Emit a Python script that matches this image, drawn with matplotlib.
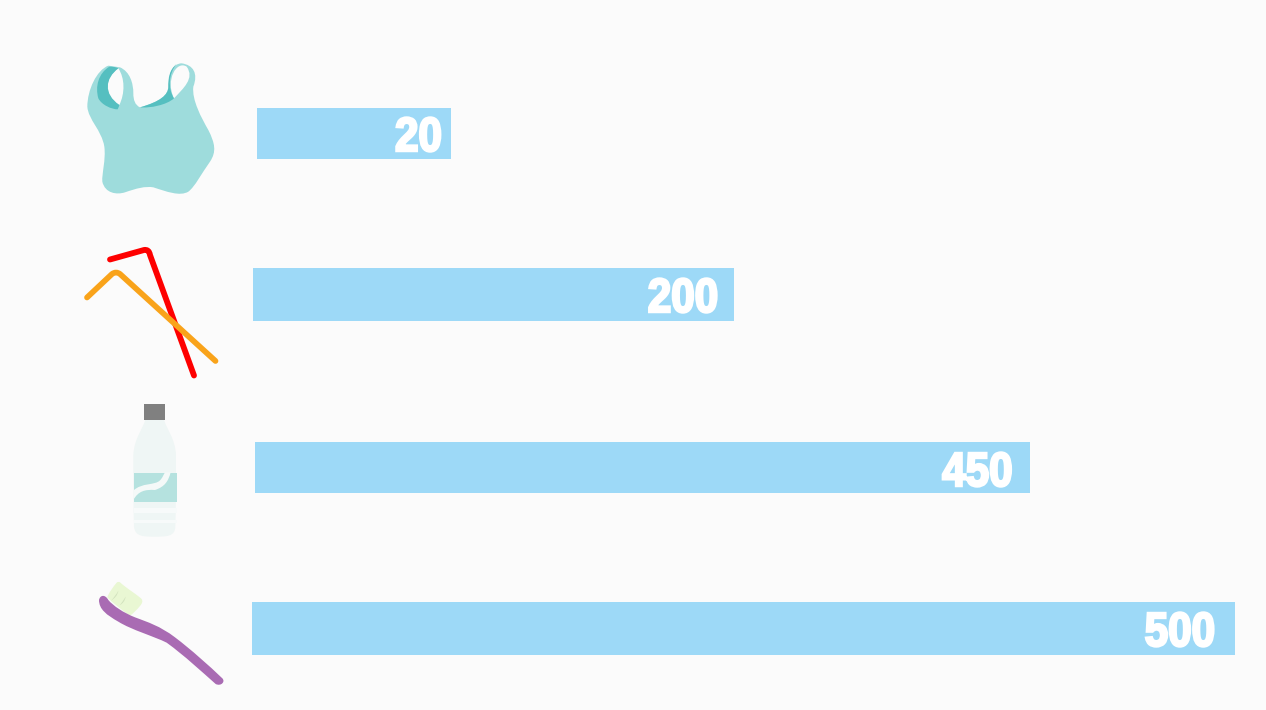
import matplotlib
matplotlib.use("Agg")
import matplotlib.pyplot as plt
import matplotlib.patheffects as pe
from matplotlib.path import Path
from matplotlib.patches import PathPatch, Rectangle
from matplotlib.transforms import Affine2D

# values printed on the bars and how long each bar is drawn (not to scale in the original)
items = ["bag", "straws", "bottle", "toothbrush"]
values = [20, 200, 450, 500]
bar_lengths = [194, 481, 775, 983]

# layout, in pixels of the image
bar_left = [257, 253, 255, 252]
bar_top = [108, 268, 442, 602]
bar_height = [51, 53, 51, 53]
label_x = [418.5, 683, 977.5, 1180]
label_base = [151, 312, 486, 646]

BG = "#FBFBFB"
BAR = "#9DD9F7"


class Squeezed(pe.AbstractPathEffect):
    # narrows the text around its middle, the fonts here have no heavy condensed face
    def __init__(self, sx, width):
        super().__init__()
        self.sx = sx
        self.width = width

    def draw_path(self, renderer, gc, tpath, affine, rgbFace=None):
        xs = affine.transform(tpath.vertices)[:, 0]
        cx = (xs.min() + xs.max()) / 2
        squeeze = Affine2D().translate(-cx, 0).scale(self.sx, 1).translate(cx, 0)
        gc0 = renderer.new_gc()
        gc0.copy_properties(gc)
        gc0.set_linewidth(self.width)
        gc0.set_foreground("white")
        gc0.set_joinstyle("miter")
        renderer.draw_path(gc0, tpath, affine + squeeze, rgbFace)
        gc0.restore()


def curve(ax, points, color, off=(0, 0), zorder=3):
    # first point, then bezier triples, coordinates as read in a 3x crop
    verts = [(off[0] + x / 3, off[1] + y / 3) for x, y in points]
    codes = [Path.MOVETO] + [Path.CURVE4] * (len(verts) - 1)
    ax.add_patch(PathPatch(Path(verts, codes), fc=color, ec="none", zorder=zorder))


def draw_bag(ax):
    off = (70, 50)
    curve(ax, [(115, 47), (80, 60), (52, 120), (52, 170), (55, 210), (95, 240), (103, 290),
               (108, 330), (95, 370), (97, 395), (105, 430), (140, 435), (165, 427),
               (200, 415), (225, 408), (250, 412), (290, 425), (330, 440), (355, 425),
               (375, 410), (395, 370), (420, 335), (440, 305), (435, 280), (415, 240),
               (395, 205), (365, 150), (370, 110), (385, 70), (370, 45), (335, 40),
               (310, 40), (295, 70), (295, 110), (295, 135), (270, 155), (210, 172),
               (195, 165), (190, 150), (190, 130), (190, 100), (180, 65), (150, 52),
               (135, 50), (125, 48), (115, 47)],
          "#9EDCDC", off)
    # handle holes
    curve(ax, [(145, 55), (105, 85), (95, 130), (148, 165), (165, 130), (165, 85), (145, 55)], BG, off, 4)
    curve(ax, [(350, 50), (320, 30), (285, 90), (312, 145), (340, 115), (375, 85), (350, 50)], BG, off, 4)
    # darker inside of the handles
    curve(ax, [(118, 50), (85, 70), (75, 110), (85, 145), (95, 165), (125, 178), (143, 178),
               (146, 172), (147, 168), (148, 165), (100, 132), (105, 85), (145, 55),
               (135, 50), (125, 50), (118, 50)],
          "#55BFC0", off, 5)
    curve(ax, [(320, 42), (297, 60), (295, 85), (295, 110), (295, 135), (270, 155), (210, 172),
               (240, 175), (290, 165), (312, 145), (293, 115), (296, 70), (320, 42)],
          "#55BFC0", off, 5)


def draw_straws(ax):
    red = Path([(110, 259.5), (144, 250), (149, 249), (150, 255), (194, 375.5)],
               [Path.MOVETO, Path.LINETO, Path.CURVE3, Path.CURVE3, Path.LINETO])
    ax.add_patch(PathPatch(red, fc="none", ec="#FE0000", lw=4.2, capstyle="round", joinstyle="round", zorder=3))
    orange = Path([(87, 297.5), (112, 274), (116, 271), (120, 274), (215.5, 361)],
                  [Path.MOVETO, Path.LINETO, Path.CURVE3, Path.CURVE3, Path.LINETO])
    ax.add_patch(PathPatch(orange, fc="none", ec="#F9A31A", lw=4.1, capstyle="round", joinstyle="round", zorder=4))


def draw_bottle(ax):
    off = (110, 395)
    curve(ax, [(106, 73), (100, 100), (72, 130), (70, 180), (70, 260), (70, 340), (72, 395),
               (75, 425), (100, 425), (134, 425), (170, 425), (195, 425), (196, 395),
               (198, 340), (198, 260), (198, 180), (196, 130), (168, 100), (162, 73),
               (140, 73), (125, 73), (106, 73)], "#EFF6F5", off)
    ax.add_patch(Rectangle((144, 404), 21, 15.5, fc="#808080", ec="none", zorder=4))
    ax.add_patch(Rectangle((133.5, 472.5), 43, 29.5, fc="#B5E2DF", ec="none", zorder=4))
    curve(ax, [(70, 287), (95, 262), (135, 272), (150, 256), (158, 248), (160, 240), (165, 232),
               (172, 232), (176, 232), (182, 232), (175, 258), (165, 275), (135, 285),
               (105, 283), (85, 288), (70, 315), (70, 305), (70, 298), (70, 287)], "#F4F9F8", off, 5)
    ax.add_patch(Rectangle((133.5, 508), 43, 5, fc="#F7FAFA", ec="none", zorder=4))
    ax.add_patch(Rectangle((133.5, 520), 43, 3, fc="#F7FAFA", ec="none", zorder=4))


def draw_toothbrush(ax):
    off = (85, 570)
    curve(ax, [(105, 37), (125, 55), (150, 70), (168, 85), (175, 92), (172, 100), (165, 108),
               (155, 120), (145, 130), (135, 137), (110, 120), (85, 100), (67, 82),
               (70, 70), (85, 50), (95, 38), (98, 35), (102, 35), (105, 37)], "#E9F7D3", off)
    # bristle shading
    curve(ax, [(100, 62), (95, 72), (85, 85), (78, 92), (88, 86), (98, 76), (100, 62)], "#D2E2BE", off, 3.5)
    curve(ax, [(122, 80), (116, 90), (110, 98), (104, 106), (114, 100), (120, 92), (122, 80)], "#D2E2BE", off, 3.5)
    curve(ax, [(42, 90), (45, 75), (60, 72), (70, 90), (85, 108), (115, 128), (150, 142),
               (190, 157), (225, 168), (270, 202), (320, 240), (370, 285), (412, 325),
               (422, 335), (408, 350), (392, 342), (350, 305), (300, 258), (245, 218),
               (205, 198), (140, 180), (100, 155), (65, 135), (42, 118), (42, 90)], "#A96BB3", off, 4)


fig = plt.figure(figsize=(12.66, 7.10), dpi=100, facecolor=BG)
ax = fig.add_axes([0, 0, 1, 1])
ax.set_xlim(0, 1266)
ax.set_ylim(710, 0)
ax.axis("off")

ax.barh([t + h / 2 for t, h in zip(bar_top, bar_height)], bar_lengths, height=bar_height,
        left=bar_left, color=BAR, zorder=2)

for v, x, y in zip(values, label_x, label_base):
    ax.text(x, y, str(v), color="white", fontsize=34.5, fontweight="bold",
            family=["Liberation Sans", "DejaVu Sans"],
            ha="center", va="baseline", zorder=5,
            path_effects=[Squeezed(0.88, 1.8)])

draw_bag(ax)
draw_straws(ax)
draw_bottle(ax)
draw_toothbrush(ax)

fig.savefig("out.png", dpi=100, facecolor=BG)
plt.close(fig)
